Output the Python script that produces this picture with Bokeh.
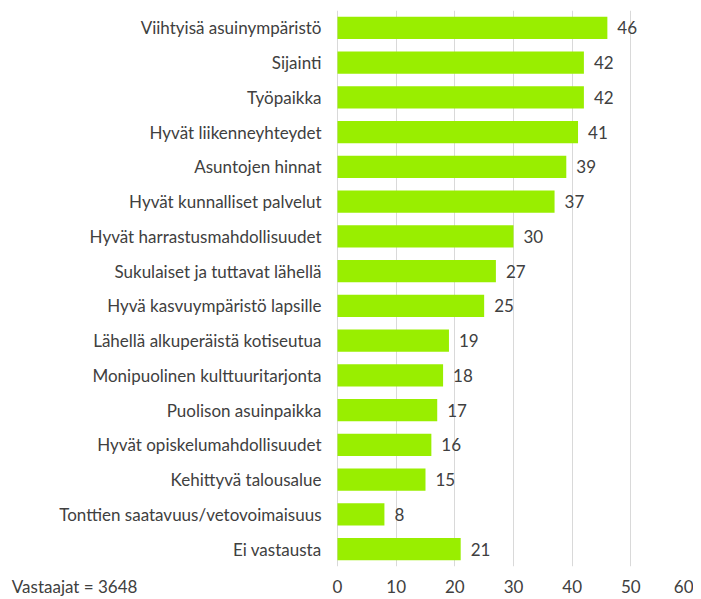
from bokeh.plotting import figure
from bokeh.models import ColumnDataSource, FixedTicker, Range1d
from bokeh.core.properties import value
from bokeh.embed import file_html
from bokeh.resources import INLINE

categories = [
    "Viihtyisä asuinympäristö",
    "Sijainti",
    "Työpaikka",
    "Hyvät liikenneyhteydet",
    "Asuntojen hinnat",
    "Hyvät kunnalliset palvelut",
    "Hyvät harrastusmahdollisuudet",
    "Sukulaiset ja tuttavat lähellä",
    "Hyvä kasvuympäristö lapsille",
    "Lähellä alkuperäistä kotiseutua",
    "Monipuolinen kulttuuritarjonta",
    "Puolison asuinpaikka",
    "Hyvät opiskelumahdollisuudet",
    "Kehittyvä talousalue",
    "Tonttien saatavuus/vetovoimaisuus",
    "Ei vastausta",
]
values = [46, 42, 42, 41, 39, 37, 30, 27, 25, 19, 18, 17, 16, 15, 8, 21]
x_ticks = [0, 10, 20, 30, 40, 50, 60]
note = "Vastaajat = 3648"

FONT = "Lato"
FS = "17px"
TEXT_COLOR = "#404040"

src = ColumnDataSource(dict(cat=categories, val=values,
                            zero=[0] * len(values),
                            lab=[str(v) for v in values]))

# frame spans the whole width; the category labels sit left of x = 0
x_start, x_end = -57.44, 60
note_pos = -44.8

p = figure(
    width=693, height=599,
    y_range=list(reversed(categories)),
    x_range=Range1d(x_start, x_end),
    output_backend="svg", toolbar_location=None,
    min_border_left=0, min_border_right=4, min_border_top=10, min_border_bottom=0,
)
p.hbar(y="cat", left="zero", right="val", height=0.64, source=src,
       color="#99EE00", line_color=None)

# value labels
p.text(x="val", y="cat", text="lab", source=src, x_offset=10,
       text_baseline="middle", text_align="left", text_font=value(FONT),
       text_font_size=FS, text_color=TEXT_COLOR)
# category labels
p.text(x="zero", y="cat", text="cat", source=src, x_offset=-16,
       text_baseline="middle", text_align="right", text_font=value(FONT),
       text_font_size=FS, text_color=TEXT_COLOR)

p.xaxis.ticker = FixedTicker(ticks=[note_pos] + x_ticks)
p.xaxis.major_label_overrides = {note_pos: note}
p.xaxis.axis_line_color = None
p.xaxis.major_tick_line_color = None
p.xaxis.minor_tick_line_color = None
p.xaxis.major_label_standoff = 3
p.xaxis.major_label_text_font = FONT
p.xaxis.major_label_text_font_size = FS
p.xaxis.major_label_text_color = TEXT_COLOR

p.yaxis.visible = False

p.ygrid.grid_line_color = None
p.xgrid.grid_line_color = "#d9d9d9"
p.xgrid.ticker = FixedTicker(ticks=x_ticks)
p.outline_line_color = None

open("out.html", "w").write(file_html(p, INLINE))
